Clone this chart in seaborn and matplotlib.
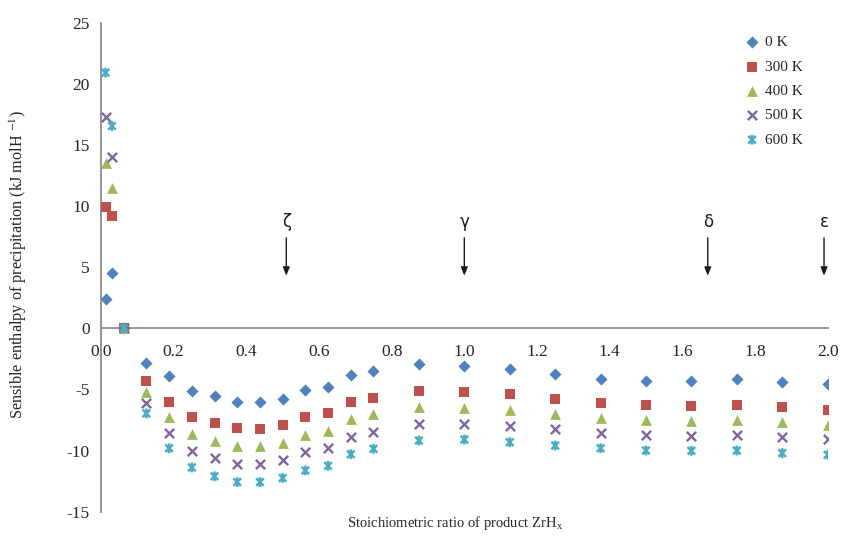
import matplotlib
matplotlib.use("Agg")
import matplotlib.pyplot as plt
import seaborn as sns
import pandas as pd
import numpy as np
from matplotlib.path import Path

# ---- data ----
x_ratio = [0.0125, 0.03, 0.0625, 0.125, 0.1875, 0.25, 0.3125, 0.375, 0.4375, 0.5,
           0.5625, 0.625, 0.6875, 0.75, 0.875, 1.0, 1.125, 1.25, 1.375, 1.5,
           1.625, 1.75, 1.875, 2.0]
h_0K = [2.40, 4.49, 0, -2.80, -3.92, -5.11, -5.55, -6.01, -6.06, -5.76, -5.06, -4.84,
        -3.78, -3.48, -2.89, -3.05, -3.37, -3.70, -4.13, -4.32, -4.30, -4.16, -4.38, -4.59]
h_300K = [9.95, 9.19, 0, -4.30, -6.01, -7.28, -7.77, -8.18, -8.21, -7.91, -7.26, -6.96,
          -6.03, -5.68, -5.11, -5.19, -5.41, -5.79, -6.09, -6.28, -6.33, -6.28, -6.47, -6.69]
h_400K = [13.55, 11.50, 0, -5.19, -7.28, -8.67, -9.18, -9.62, -9.62, -9.35, -8.72, -8.37,
          -7.45, -7.04, -6.41, -6.50, -6.69, -7.01, -7.36, -7.50, -7.55, -7.50, -7.69, -7.91]
h_500K = [17.26, 14.04, 0, -6.09, -8.53, -10.0, -10.62, -11.08, -11.08, -10.76, -10.16, -9.81,
          -8.86, -8.45, -7.83, -7.82, -7.99, -8.26, -8.59, -8.75, -8.78, -8.72, -8.91, -9.07]
h_600K = [20.91, 16.55, 0, -6.96, -9.81, -11.38, -12.11, -12.58, -12.58, -12.25, -11.63, -11.25,
          -10.30, -9.86, -9.18, -9.10, -9.32, -9.59, -9.81, -10.0, -10.02, -10.0, -10.21, -10.35]
series_labels = ["0 K", "300 K", "400 K", "500 K", "600 K"]
phase_names = ["ζ", "γ", "δ", "ε"]
phase_x = [0.51, 1.0, 1.67, 1.99]
x_ticks = [0.0, 0.2, 0.4, 0.6, 0.8, 1.0, 1.2, 1.4, 1.6, 1.8, 2.0]
y_ticks = [-15, -10, -5, 0, 5, 10, 15, 20, 25]

sns.set_style("white")
plt.rcParams["font.family"] = ["Liberation Serif", "DejaVu Serif"]
plt.rcParams["mathtext.fontset"] = "stix"
plt.rcParams["axes.unicode_minus"] = False

# star marker: X plus vertical line
star = Path([(-1, -1), (1, 1), (-1, 1), (1, -1), (0, -1.3), (0, 1.3)],
            [Path.MOVETO, Path.LINETO, Path.MOVETO, Path.LINETO, Path.MOVETO, Path.LINETO])

colors = ["#4F81BD", "#C0504D", "#9BBB59", "#8064A2", "#4BACC6"]
markers = ["D", "s", "^", "x", star]
sizes = [38, 55, 60, 45, 50]
values = [h_0K, h_300K, h_400K, h_500K, h_600K]

df = pd.concat([pd.DataFrame({"x": x_ratio, "y": v, "T": lab})
                for v, lab in zip(values, series_labels)], ignore_index=True)

fig = plt.figure(figsize=(8.43, 5.49), dpi=100)
ax = fig.add_axes([0.1198, 0.0680, 0.8620, 0.8907])

for lab, c, m, s in zip(series_labels, colors, markers, sizes):
    sub = df[df["T"] == lab]
    if isinstance(m, Path):
        sns.scatterplot(data=sub, x="x", y="y", marker=m, color=c, s=s,
                        edgecolor=c, facecolor="none", linewidth=1.8,
                        ax=ax, label=lab, zorder=3)
    elif m == "x":
        sns.scatterplot(data=sub, x="x", y="y", marker=m, color=c, s=s,
                        linewidth=1.7, ax=ax, label=lab, zorder=3)
    else:
        sns.scatterplot(data=sub, x="x", y="y", marker=m, color=c, s=s,
                        linewidth=0, ax=ax, label=lab, zorder=3)

ax.set_xlim(0, 2.0)
ax.set_ylim(-15, 25)
ax.set_xticks(x_ticks)
ax.set_xticklabels([f"{t:.1f}" for t in x_ticks])
ax.set_yticks(y_ticks)
ax.set_yticklabels([str(t) for t in y_ticks])

spine_c = "#8C8C8C"
ax.spines["top"].set_visible(False)
ax.spines["right"].set_visible(False)
ax.spines["bottom"].set_position(("data", 0))
for sp in ("left", "bottom"):
    ax.spines[sp].set_color(spine_c)
    ax.spines[sp].set_linewidth(1.3)
ax.tick_params(axis="both", direction="out", length=4, width=1.3, color=spine_c,
               labelsize=12.5, labelcolor="#262626", pad=4)
ax.tick_params(axis="x", pad=7)

ax.set_xlabel("Stoichiometric ratio of product ZrH$_\\mathregular{x}$", fontsize=10.5, color="#262626")
ax.set_ylabel("Sensible enthalpy of precipitation (kJ molH $^{-1}$)", fontsize=11.7, color="#262626")
ax.xaxis.set_label_coords(0.487, -0.004)
ax.yaxis.set_label_coords(-0.099, 0.506)

for name, px in zip(phase_names, phase_x):
    ax.annotate("", xy=(px, 4.3), xytext=(px, 7.4),
                arrowprops=dict(arrowstyle="-|>,head_length=0.5,head_width=0.2",
                                color="#1a1a1a", lw=1.0, shrinkA=0, shrinkB=0))
    ax.text(px, 8.7, name, ha="center", va="center", fontsize=12,
            family=["DejaVu Sans"], color="#1a1a1a")

leg = ax.legend(loc="upper left", bbox_to_anchor=(744.4 / 843, 1 - 35.5 / 549),
                bbox_transform=fig.transFigure, frameon=False, fontsize=11,
                handlelength=1.0, handletextpad=0.35, labelspacing=0.7,
                borderpad=0, borderaxespad=0)
for t in leg.get_texts():
    t.set_color("#262626")

fig.savefig("out.png", dpi=100)
